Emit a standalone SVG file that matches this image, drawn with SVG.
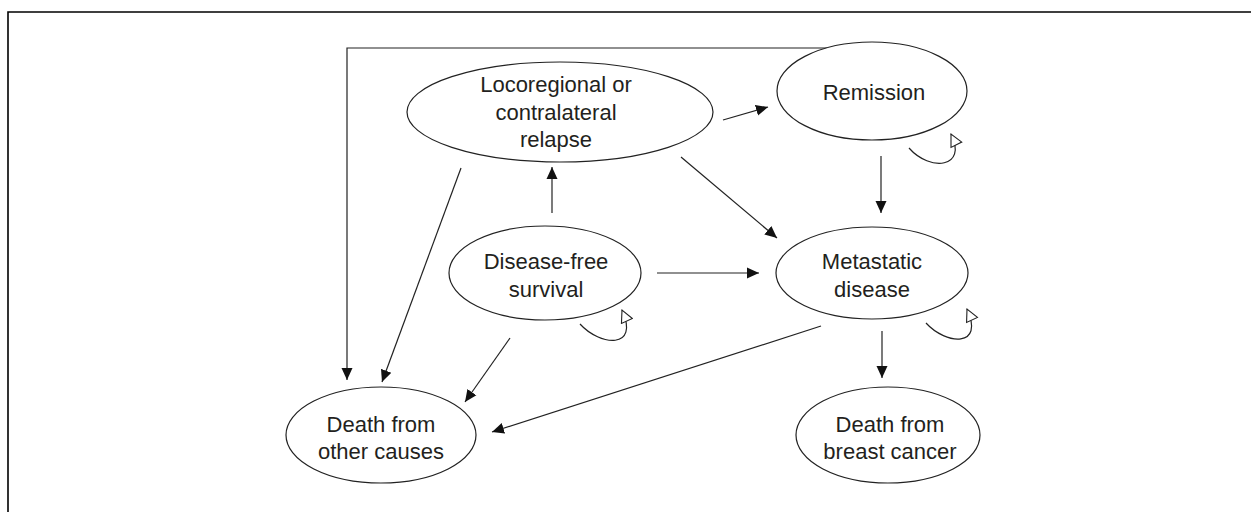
<svg xmlns="http://www.w3.org/2000/svg" width="1251" height="512" viewBox="0 0 1251 512">
<style>
.node ellipse{fill:#fff;stroke:#222;stroke-width:1.2}
.node text{font-family:"Liberation Sans",Arial,sans-serif;font-size:22px;fill:#231f20;text-anchor:middle}
.conn path{fill:none;stroke:#222;stroke-width:1.2}
.frame{fill:none;stroke:#000;stroke-width:1.6}
</style>
<defs>
<marker id="arr" markerUnits="userSpaceOnUse" markerWidth="13" markerHeight="12" refX="12" refY="6" orient="auto" viewBox="0 0 13 12">
<path d="M0,0.5 L12,6 L0,11.5 z" fill="#111"/>
</marker>
<marker id="open" markerUnits="userSpaceOnUse" markerWidth="15" markerHeight="14" refX="13" refY="7" orient="auto" viewBox="0 0 15 14">
<path d="M1,1 L13,7 L1,13 z" fill="#fff" stroke="#222" stroke-width="1.1"/>
</marker>
</defs>
<path class="frame" d="M8,512 V12 H1251"/>
<g class="conn">
<path d="M827,48 H347 V380" marker-end="url(#arr)"/>
<path d="M461,168 L382,382" marker-end="url(#arr)"/>
<path d="M723,120 L768,107" marker-end="url(#arr)"/>
<path d="M681,157 L777,238" marker-end="url(#arr)"/>
<path d="M552,213 L552,167" marker-end="url(#arr)"/>
<path d="M657,273 L759,273" marker-end="url(#arr)"/>
<path d="M881,156 L881,213" marker-end="url(#arr)"/>
<path d="M510,338 L465,402" marker-end="url(#arr)"/>
<path d="M821,326 L492,432" marker-end="url(#arr)"/>
<path d="M882,331 L882,378" marker-end="url(#arr)"/>
<path d="M909,148 C930,172 968,168 951,134" marker-end="url(#open)"/>
<path d="M580,324 C600,346 640,350 622,310" marker-end="url(#open)"/>
<path d="M926,323 C946,345 985,348 967,309" marker-end="url(#open)"/>
</g>
<g id="locoregional" class="node">
<ellipse cx="560" cy="112" rx="153" ry="50"/>
<text x="556" y="92">Locoregional or</text>
<text x="556" y="120">contralateral</text>
<text x="556" y="147">relapse</text>
</g>
<g id="remission" class="node">
<ellipse cx="872" cy="91" rx="95" ry="49"/>
<text x="874" y="100">Remission</text>
</g>
<g id="disease-free" class="node">
<ellipse cx="545" cy="273" rx="96" ry="47"/>
<text x="546" y="269">Disease-free</text>
<text x="546" y="297">survival</text>
</g>
<g id="metastatic" class="node">
<ellipse cx="872" cy="273" rx="96" ry="46"/>
<text x="872" y="269">Metastatic</text>
<text x="872" y="297">disease</text>
</g>
<g id="death-other" class="node">
<ellipse cx="381" cy="435" rx="95" ry="48"/>
<text x="381" y="432">Death from</text>
<text x="381" y="459">other causes</text>
</g>
<g id="death-breast" class="node">
<ellipse cx="888" cy="435" rx="92" ry="48"/>
<text x="890" y="432">Death from</text>
<text x="890" y="459">breast cancer</text>
</g>
</svg>
